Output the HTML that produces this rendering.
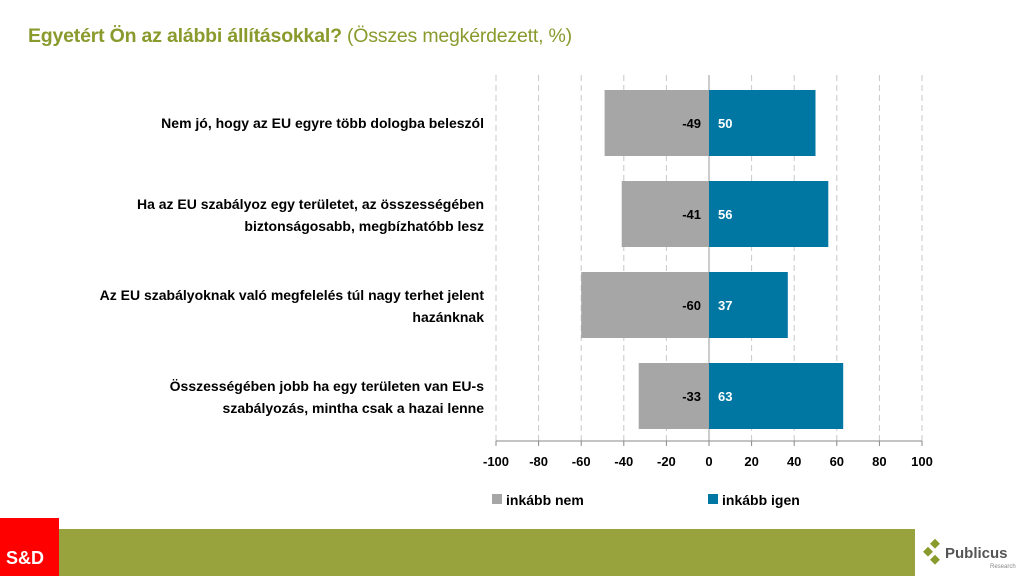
<!DOCTYPE html>
<html><head><meta charset="utf-8"><style>
body{margin:0;width:1024px;height:576px;overflow:hidden;background:#fff;font-family:"Liberation Sans",sans-serif;position:relative}
.t{position:absolute;left:28px;top:25px;font-size:19.5px;color:#8a9a2c;letter-spacing:-0.2px}
.l{position:absolute;right:540px;text-align:right;font-weight:bold;font-size:14px;line-height:22px;color:#000;width:420px}
</style></head><body>
<div class="t"><b>Egyetért Ön az alábbi állításokkal?</b> (Összes megkérdezett, %)</div>
<div class="l" style="top:112px">Nem jó, hogy az EU egyre több dologba beleszól</div>
<div class="l" style="top:193px">Ha az EU szabályoz egy területet, az összességében<br>biztonságosabb, megbízhatóbb lesz</div>
<div class="l" style="top:284px">Az EU szabályoknak való megfelelés túl nagy terhet jelent<br>hazánknak</div>
<div class="l" style="top:375px">Összességében jobb ha egy területen van EU-s<br>szabályozás, mintha csak a hazai lenne</div>
<svg width="1024" height="576" style="position:absolute;left:0;top:0" font-family="Liberation Sans,sans-serif" font-weight="bold" font-size="13">
<g stroke="#c8c8c8" stroke-dasharray="6,4">
<line x1="496" y1="75" x2="496" y2="441"/><line x1="538.6" y1="75" x2="538.6" y2="441"/><line x1="581.2" y1="75" x2="581.2" y2="441"/><line x1="623.8" y1="75" x2="623.8" y2="441"/><line x1="666.4" y1="75" x2="666.4" y2="441"/><line x1="751.6" y1="75" x2="751.6" y2="441"/><line x1="794.2" y1="75" x2="794.2" y2="441"/><line x1="836.8" y1="75" x2="836.8" y2="441"/><line x1="879.4" y1="75" x2="879.4" y2="441"/><line x1="922" y1="75" x2="922" y2="441"/>
</g>
<line x1="709" y1="75" x2="709" y2="441" stroke="#999"/>
<g fill="#a6a6a6">
<rect x="604.6" y="90" width="104.4" height="66"/><rect x="621.7" y="181" width="87.3" height="66"/><rect x="581.2" y="272" width="127.8" height="66"/><rect x="638.7" y="363" width="70.3" height="66"/>
</g>
<g fill="#0076a3">
<rect x="709" y="90" width="106.5" height="66"/><rect x="709" y="181" width="119.3" height="66"/><rect x="709" y="272" width="78.8" height="66"/><rect x="709" y="363" width="134.2" height="66"/>
</g>
<g text-anchor="end" fill="#000"><text x="701" y="128">-49</text><text x="701" y="219">-41</text><text x="701" y="310">-60</text><text x="701" y="401">-33</text></g>
<g fill="#fff"><text x="718" y="128">50</text><text x="718" y="219">56</text><text x="718" y="310">37</text><text x="718" y="401">63</text></g>
<line x1="496" y1="441" x2="922" y2="441" stroke="#888"/>
<g stroke="#888"><line x1="496" y1="441" x2="496" y2="446"/><line x1="538.6" y1="441" x2="538.6" y2="446"/><line x1="581.2" y1="441" x2="581.2" y2="446"/><line x1="623.8" y1="441" x2="623.8" y2="446"/><line x1="666.4" y1="441" x2="666.4" y2="446"/><line x1="709" y1="441" x2="709" y2="446"/><line x1="751.6" y1="441" x2="751.6" y2="446"/><line x1="794.2" y1="441" x2="794.2" y2="446"/><line x1="836.8" y1="441" x2="836.8" y2="446"/><line x1="879.4" y1="441" x2="879.4" y2="446"/><line x1="922" y1="441" x2="922" y2="446"/></g>
<g text-anchor="middle" fill="#000"><text x="496" y="466">-100</text><text x="538.6" y="466">-80</text><text x="581.2" y="466">-60</text><text x="623.8" y="466">-40</text><text x="666.4" y="466">-20</text><text x="709" y="466">0</text><text x="751.6" y="466">20</text><text x="794.2" y="466">40</text><text x="836.8" y="466">60</text><text x="879.4" y="466">80</text><text x="922" y="466">100</text></g>
<rect x="492" y="494" width="10" height="10" fill="#a6a6a6"/><text x="506" y="505" font-size="14">inkább nem</text>
<rect x="708" y="494" width="10" height="10" fill="#0076a3"/><text x="722" y="505" font-size="14">inkább igen</text>
<rect x="0" y="518" width="59" height="58" fill="#ff0000"/>
<text x="6" y="564" fill="#fff" font-size="18">S&amp;D</text>
<rect x="59" y="529" width="856" height="47" fill="#99a33e"/>
<g fill="#8a9a2c"><rect x="925" y="548" width="7" height="7" transform="rotate(45 928 551)"/><rect x="932" y="540" width="7" height="7" transform="rotate(45 935 543)"/><rect x="932" y="556" width="7" height="7" transform="rotate(45 935 559)"/></g>
<text x="945" y="558" fill="#555" font-size="15">Publicus</text>
<text x="990" y="568" fill="#888" font-size="6" font-weight="normal">Research</text>
</svg>
</body></html>
